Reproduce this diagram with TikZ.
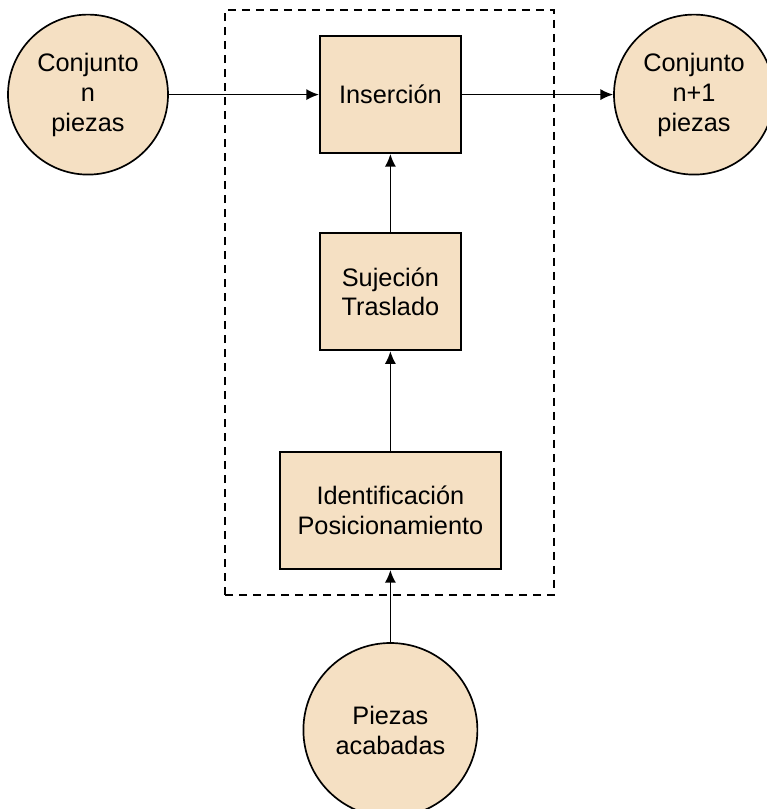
\documentclass[tikz,border=0pt]{standalone}
\usepackage{fontspec}
\setmainfont{Liberation Sans}
\usetikzlibrary{arrows.meta}
\definecolor{beige}{HTML}{F5E0C3}

\begin{document}
\begin{tikzpicture}[
    every node/.style={font=\fontsize{18}{21.3}\selectfont, align=center},
    bloque/.style={draw, line width=1.2pt, fill=beige, minimum width=3.525cm, minimum height=2.925cm},
    conjunto/.style={draw, circle, line width=1.2pt, fill=beige, inner sep=0pt},
    flecha/.style={-{Latex[length=0.32cm,width=0.28cm]}, line width=1.2pt}
]
    \useasboundingbox (0,0) rectangle (19.175,20.225);

    % Dashed frame around the station
    \draw[line width=1pt, dash pattern=on 0.2cm off 0.15cm] (5.625,5.35) rectangle (13.85,19.975);

    % Blocks
    \node[bloque] (insercion) at (9.76,17.86) {Inserción};
    \node[bloque] (sujecion) at (9.76,12.93) {Sujeción\\Traslado};
    \node[bloque, minimum width=5.525cm] (ident) at (9.76,7.46) {Identificación\\Posicionamiento};

    % Inputs and output
    \node[conjunto, minimum size=4cm] (entrada) at (2.2,17.86) {Conjunto\\n\\piezas};
    \node[conjunto, minimum size=4cm] (salida) at (17.35,17.86) {Conjunto\\n+1\\piezas};
    \node[conjunto, minimum size=4.35cm] (piezas) at (9.76,1.975) {Piezas\\acabadas};

    % Flow
    \draw[flecha] (entrada) -- (insercion);
    \draw[flecha] (insercion) -- (salida);
    \draw[flecha] (sujecion) -- (insercion);
    \draw[flecha] (ident) -- (sujecion);
    \draw[flecha] (piezas) -- (ident);
\end{tikzpicture}
\end{document}
